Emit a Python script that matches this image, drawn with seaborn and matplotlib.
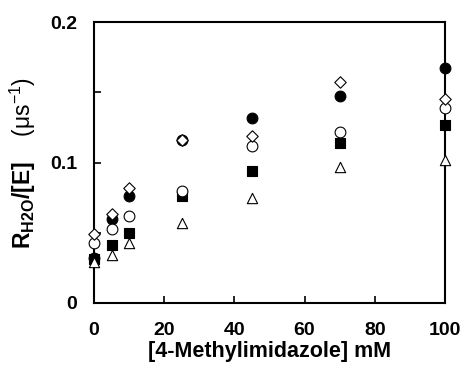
import numpy as np
import pandas as pd
import matplotlib
matplotlib.use("Agg")
import matplotlib.pyplot as plt
import seaborn as sns
from matplotlib.ticker import MultipleLocator

# data
conc = [0, 5, 10, 25, 45, 70, 100]

filled_circle = [0.032, 0.060, 0.076, 0.116, 0.132, 0.147, 0.167]
filled_square = [0.031, 0.041, 0.050, 0.076, 0.094, 0.114, 0.127]
open_triangle = [0.029, 0.034, 0.043, 0.057, 0.075, 0.097, 0.102]
open_circle = [0.043, 0.053, 0.062, 0.080, 0.112, 0.122, 0.139]
open_diamond = [0.049, 0.063, 0.082, 0.116, 0.119, 0.157, 0.145]

sns.set_style("ticks", {"axes.edgecolor": "black", "text.color": "black",
                        "axes.labelcolor": "black", "xtick.color": "black",
                        "ytick.color": "black"})
plt.rcParams["font.family"] = ["Liberation Sans", "DejaVu Sans"]
plt.rcParams["mathtext.fontset"] = "custom"
plt.rcParams["mathtext.rm"] = "Liberation Sans"
plt.rcParams["mathtext.bf"] = "Liberation Sans:bold"

fig, ax = plt.subplots(figsize=(4.62, 3.67), dpi=100)
fig.subplots_adjust(left=0.2035, right=0.963, top=0.94, bottom=0.1744)

# filled markers first, open ones drawn on top
series = [
    (filled_circle, "o", "black", 60),
    (filled_square, "s", "black", 55),
    (open_triangle, "^", "white", 55),
    (open_circle, "o", "white", 60),
    (open_diamond, "D", "white", 34),
]
for vals, m, fc, s in series:
    df = pd.DataFrame({"x": conc, "y": vals})
    sns.scatterplot(data=df, x="x", y="y", marker=m, color=fc, edgecolor="black",
                    linewidth=0.8, s=s, ax=ax, clip_on=False, zorder=5, legend=False)

ax.set_xlim(0, 100)
ax.set_ylim(0, 0.2)
ax.set_xticks([0, 20, 40, 60, 80, 100])
ax.set_xticklabels(["0", "20", "40", "60", "80", "100"])
ax.set_yticks([0, 0.1, 0.2])
ax.set_yticklabels(["0", "0.1", "0.2"])
ax.yaxis.set_minor_locator(MultipleLocator(0.05))

for sp in ax.spines.values():
    sp.set_linewidth(1.5)
    sp.set_visible(True)

ax.tick_params(axis="both", which="both", direction="in", width=1.2, labelsize=14)
ax.tick_params(axis="x", which="major", length=5, pad=14)
ax.tick_params(axis="y", which="major", length=5, pad=12)
ax.tick_params(axis="y", which="minor", length=5)
for lab in ax.get_xticklabels() + ax.get_yticklabels():
    lab.set_fontweight("bold")

ax.set_xlabel("[4-Methylimidazole] mM", fontsize=15.5, fontweight="bold", labelpad=1)
ax.set_ylabel(r"$\mathbf{R_{H2O}/[E]}$    $\mathrm{(\mu s^{-1})}$", fontsize=16.5, labelpad=9)

fig.savefig("out.png", dpi=100)
